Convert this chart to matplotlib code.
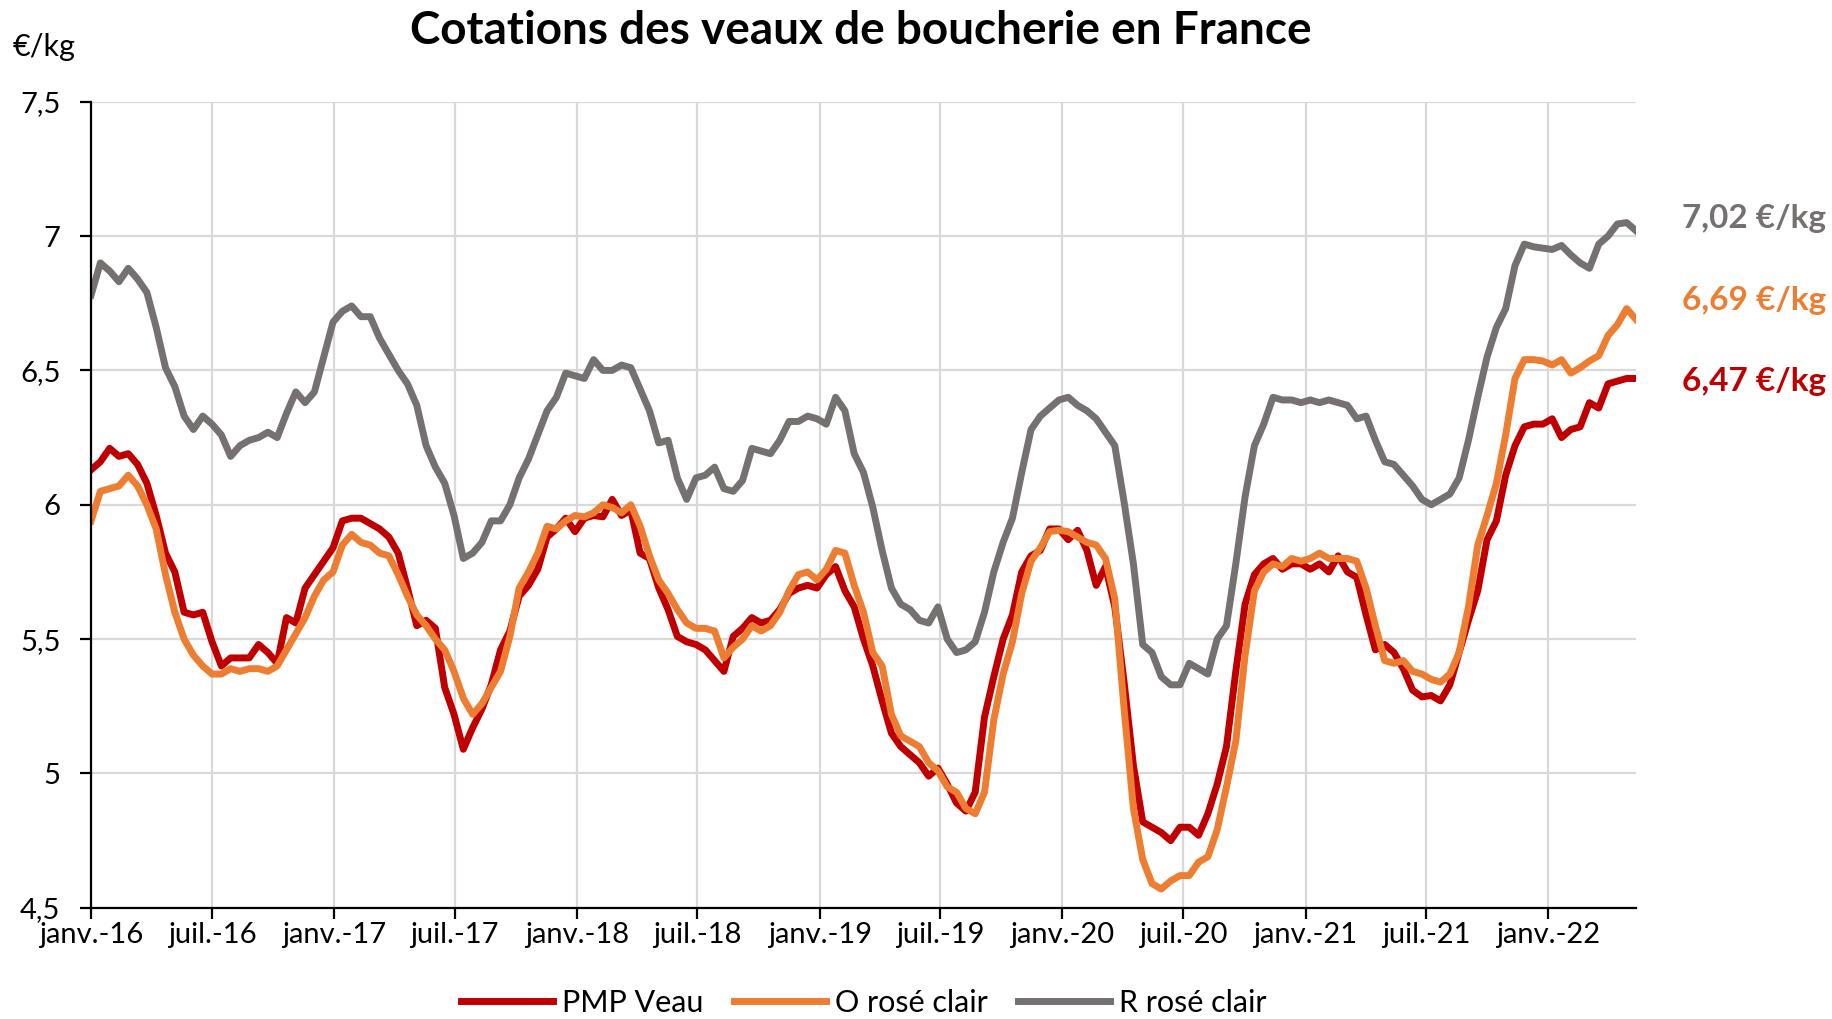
import matplotlib
matplotlib.use('Agg')
import matplotlib.pyplot as plt
import matplotlib.transforms as mtransforms
import pandas as pd

plt.rcParams['font.family'] = ['Lato', 'DejaVu Sans']

#-----
# DATA
#-----
# one price every two weeks, starting first week of january 2016 (euro / kg)
pmp_veau = [
    6.13, 6.16, 6.21, 6.18, 6.19, 6.15, 6.08, 5.96, 5.82, 5.75, 5.60, 5.59, 5.60, 5.49, 5.40,
    5.43, 5.43, 5.43, 5.48, 5.45, 5.41, 5.58, 5.56, 5.69, 5.74, 5.79, 5.84, 5.94, 5.95, 5.95,
    5.93, 5.91, 5.88, 5.82, 5.69, 5.55, 5.57, 5.54, 5.32, 5.22, 5.09, 5.17, 5.24,
    5.33, 5.46, 5.53, 5.66, 5.70, 5.76, 5.88, 5.91, 5.95, 5.90, 5.95, 5.96, 5.955, 6.02, 5.96,
    5.98, 5.82, 5.80, 5.69, 5.61, 5.51, 5.49, 5.48, 5.46, 5.42, 5.38, 5.51, 5.54, 5.58, 5.56,
    5.57, 5.61, 5.67, 5.69, 5.70, 5.69, 5.74, 5.77, 5.68, 5.62, 5.50, 5.40,
    5.27, 5.15, 5.10, 5.07, 5.04, 4.99, 5.02, 4.96, 4.89, 4.86, 4.93, 5.21, 5.36, 5.50, 5.59,
    5.75, 5.81, 5.83, 5.91, 5.91, 5.87, 5.905, 5.83, 5.70, 5.77, 5.62, 5.34, 5.03, 4.82, 4.80,
    4.78, 4.75, 4.80, 4.80, 4.77, 4.85, 4.96, 5.10, 5.38, 5.63,
    5.74, 5.78, 5.80, 5.76, 5.78, 5.78, 5.76, 5.78, 5.75, 5.81, 5.75, 5.73, 5.59, 5.46, 5.48,
    5.45, 5.39, 5.31, 5.285, 5.29, 5.27, 5.33, 5.45, 5.57, 5.68, 5.87, 5.94, 6.11, 6.22, 6.29,
    6.30, 6.30, 6.32, 6.25, 6.28, 6.29, 6.38, 6.36, 6.45, 6.46, 6.47, 6.47,
]
o_rose_clair = [
    5.94, 6.05, 6.06, 6.07, 6.11, 6.07, 6.00, 5.91, 5.74, 5.60, 5.50, 5.44, 5.40, 5.37, 5.37,
    5.39, 5.38, 5.39, 5.39, 5.38, 5.40, 5.46, 5.52, 5.58, 5.66, 5.72, 5.75, 5.85, 5.89, 5.86,
    5.85, 5.82, 5.81, 5.74, 5.66, 5.59, 5.55, 5.50, 5.46, 5.38, 5.28, 5.22, 5.26,
    5.32, 5.38, 5.51, 5.69, 5.75, 5.82, 5.92, 5.91, 5.94, 5.96, 5.955, 5.97, 6.00, 5.99, 5.97,
    6.00, 5.92, 5.81, 5.72, 5.67, 5.61, 5.56, 5.54, 5.54, 5.53, 5.43, 5.47, 5.50, 5.55, 5.53,
    5.55, 5.60, 5.68, 5.74, 5.75, 5.72, 5.76, 5.83, 5.82, 5.70, 5.60, 5.45,
    5.40, 5.22, 5.14, 5.12, 5.10, 5.04, 5.01, 4.95, 4.93, 4.87, 4.85, 4.93, 5.20, 5.37, 5.49,
    5.67, 5.79, 5.84, 5.90, 5.905, 5.90, 5.88, 5.86, 5.85, 5.80, 5.65, 5.24, 4.87, 4.68, 4.59,
    4.57, 4.60, 4.62, 4.62, 4.67, 4.69, 4.79, 4.95, 5.12, 5.44,
    5.68, 5.75, 5.78, 5.77, 5.80, 5.79, 5.80, 5.82, 5.80, 5.80, 5.80, 5.79, 5.69, 5.55, 5.42,
    5.41, 5.42, 5.38, 5.37, 5.35, 5.34, 5.37, 5.45, 5.62, 5.85, 5.96, 6.08, 6.26, 6.47, 6.54,
    6.54, 6.535, 6.52, 6.54, 6.49, 6.51, 6.535, 6.555, 6.63, 6.67, 6.73, 6.69,
]
r_rose_clair = [
    6.78, 6.90, 6.87, 6.83, 6.88, 6.84, 6.79, 6.66, 6.51, 6.44, 6.33, 6.28, 6.33, 6.30, 6.26,
    6.18, 6.22, 6.24, 6.25, 6.27, 6.25, 6.34, 6.42, 6.38, 6.42, 6.55, 6.68, 6.72, 6.74, 6.70,
    6.70, 6.62, 6.56, 6.50, 6.45, 6.37, 6.22, 6.14, 6.08, 5.96, 5.80, 5.82, 5.86,
    5.94, 5.94, 6.00, 6.10, 6.17, 6.26, 6.35, 6.40, 6.49, 6.48, 6.47, 6.54, 6.50, 6.50, 6.52,
    6.51, 6.43, 6.35, 6.23, 6.24, 6.10, 6.02, 6.10, 6.11, 6.14, 6.06, 6.05, 6.09, 6.21, 6.20,
    6.19, 6.24, 6.31, 6.31, 6.33, 6.32, 6.30, 6.40, 6.35, 6.19, 6.12, 5.99,
    5.83, 5.69, 5.63, 5.61, 5.57, 5.56, 5.62, 5.50, 5.45, 5.46, 5.49, 5.60, 5.75, 5.86, 5.95,
    6.12, 6.28, 6.33, 6.36, 6.39, 6.40, 6.37, 6.35, 6.32, 6.27, 6.22, 6.01, 5.78, 5.48, 5.45,
    5.36, 5.33, 5.33, 5.41, 5.39, 5.37, 5.50, 5.55, 5.78, 6.03,
    6.22, 6.30, 6.40, 6.39, 6.39, 6.38, 6.39, 6.38, 6.39, 6.38, 6.37, 6.32, 6.33, 6.24, 6.16,
    6.15, 6.11, 6.07, 6.02, 6.00, 6.02, 6.04, 6.10, 6.24, 6.40, 6.55, 6.66, 6.73, 6.89, 6.97,
    6.96, 6.955, 6.95, 6.965, 6.93, 6.90, 6.88, 6.97, 7.00, 7.045, 7.05, 7.02,
]

series_names = ['PMP Veau', 'O rosé clair', 'R rosé clair']
series_colors = ['#C00000', '#ED7D31', '#767171']
end_labels = ['6,47 €/kg', '6,69 €/kg', '7,02 €/kg']
end_label_y = [6.46, 6.76, 7.065]

tick_dates = ['2016-01-01', '2016-07-01', '2017-01-01', '2017-07-01', '2018-01-01',
              '2018-07-01', '2019-01-01', '2019-07-01', '2020-01-01', '2020-07-01',
              '2021-01-01', '2021-07-01', '2022-01-01']
tick_labels = ['janv.-16', 'juil.-16', 'janv.-17', 'juil.-17', 'janv.-18', 'juil.-18',
               'janv.-19', 'juil.-19', 'janv.-20', 'juil.-20', 'janv.-21', 'juil.-21',
               'janv.-22']
y_ticks = [4.5, 5, 5.5, 6, 6.5, 7, 7.5]
y_labels = ['4,5', '5', '5,5', '6', '6,5', '7', '7,5']

dates = pd.date_range('2016-01-01', periods=len(pmp_veau), freq='14D')

#---------
# PLOTTING
#---------
fig = plt.figure(figsize=(18.32, 10.19), dpi=100)
ax = fig.add_axes([0.0497, 0.1091, 0.8433, 0.7911])

lines = []
for vals, name, col in zip([pmp_veau, o_rose_clair, r_rose_clair], series_names, series_colors):
    ln, = ax.plot(dates, vals, color=col, lw=5, label=name, solid_joinstyle='round')
    lines.append(ln)

ax.set_xlim(dates[0], dates[-1])
ax.set_ylim(4.5, 7.5)
ax.set_xticks(pd.to_datetime(tick_dates))
ax.set_xticklabels(tick_labels)
ax.set_yticks(y_ticks)
ax.set_yticklabels(y_labels)

ax.grid(True, color='#d9d9d9', lw=1.6)
ax.set_axisbelow(True)
for s in ['top', 'right']:
    ax.spines[s].set_visible(False)
for s in ['left', 'bottom']:
    ax.spines[s].set_linewidth(1.6)
    ax.spines[s].set_color('black')
ax.tick_params(axis='both', direction='out', length=8, width=1.6, labelsize=21)
ax.tick_params(axis='x', pad=2)
ax.tick_params(axis='y', pad=14)

# values at end of lines
trans = mtransforms.blended_transform_factory(ax.transAxes, ax.transData)
for lab, yy, col in zip(end_labels, end_label_y, series_colors):
    ax.text(1.030, yy, lab, color=col, fontsize=24, fontweight='bold',
            ha='left', va='center', transform=trans, clip_on=False)

fig.text(0.47, 0.970, 'Cotations des veaux de boucherie en France',
         ha='center', va='center', fontsize=33, fontweight='bold')
fig.text(0.007, 0.954, '€/kg', ha='left', va='center', fontsize=22)

fig.legend(lines, series_names, loc='center', bbox_to_anchor=(0.4716, 0.016), ncol=3,
           frameon=False, fontsize=22, handlelength=3.0, columnspacing=1.0,
           handletextpad=0.3)

fig.savefig('out.png', dpi=100)
